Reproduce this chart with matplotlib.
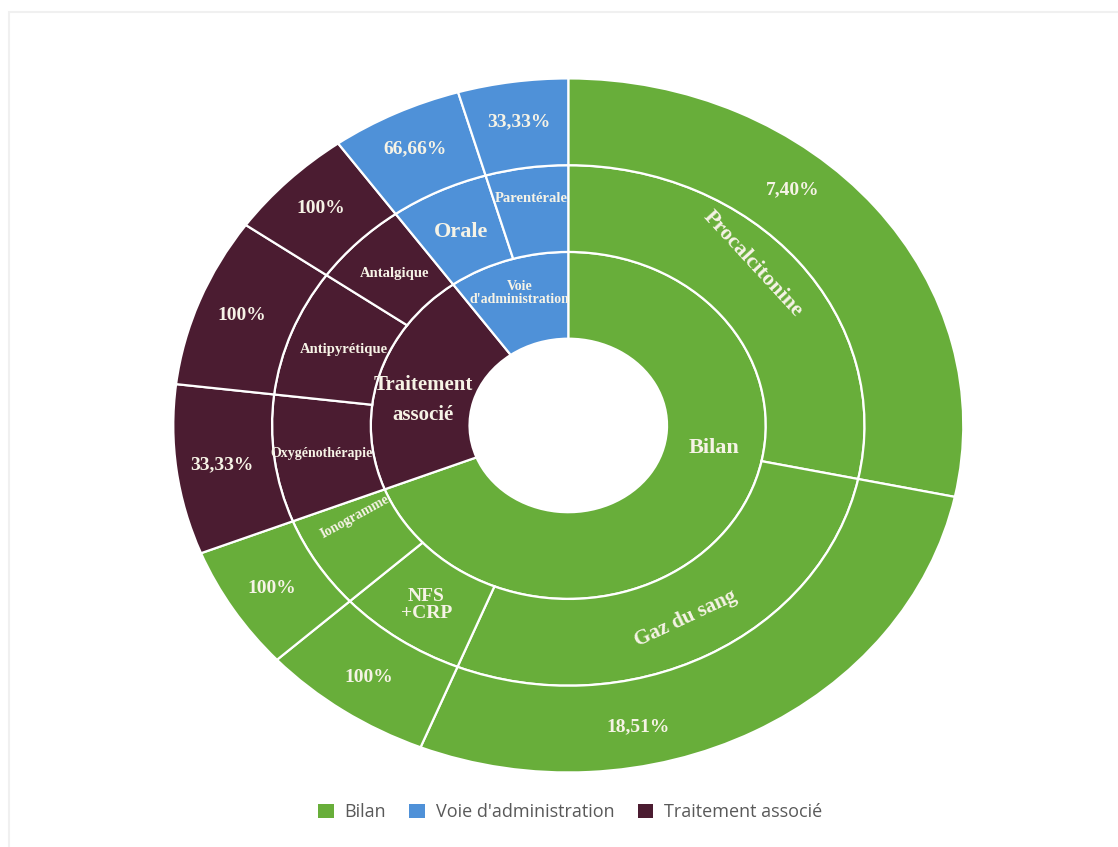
import numpy as np
import matplotlib.pyplot as plt
from matplotlib.patches import Patch, Rectangle

# inner ring, clockwise from 12 o'clock
groupes = ['Bilan', 'Traitement\nassocié', "Voie\nd'administration"]
couleurs = ['#68ae3a', '#4b1c31', '#4f91d8']

# middle ring (sub-categories) and the parent of each one
examens = ['Procalcitonine', 'Gaz du sang', 'NFS\n+CRP', 'Ionogramme',
           'Oxygénothérapie', 'Antipyrétique', 'Antalgique',
           'Orale', 'Parentérale']
parent = [0, 0, 0, 0, 1, 1, 1, 2, 2]
parts = [28.3, 27.8, 7.1, 5.8, 7.9, 7.9, 5.3, 5.4, 4.5]

# outer ring labels
pourcentages = ['7,40%', '18,51%', '100%', '100%',
                '33,33%', '100%', '100%', '66,66%', '33,33%']

legende = ['Bilan', "Voie d'administration", 'Traitement associé']
legende_idx = [0, 2, 1]

tailles_groupes = [sum(p for p, g in zip(parts, parent) if g == i) for i in range(len(groupes))]
couleurs_ex = [couleurs[g] for g in parent]

fig = plt.figure(figsize=(11.18, 8.47), dpi=100)
ax = fig.add_axes([0.155, 0.088, 0.7066, 0.8194])

wp = dict(width=0.25, edgecolor='white', linewidth=1.6)
ax.pie(tailles_groupes, radius=0.5, startangle=90, counterclock=False,
       colors=couleurs, wedgeprops=wp)
ax.pie(parts, radius=0.75, startangle=90, counterclock=False,
       colors=couleurs_ex, wedgeprops=wp)
ax.pie(parts, radius=1.0, startangle=90, counterclock=False,
       colors=couleurs_ex, wedgeprops=wp)
ax.set_aspect('auto')
ax.set_xlim(-1, 1)
ax.set_ylim(-1, 1)


def mid_angles(vals):
    vals = np.asarray(vals, dtype=float)
    fin = np.cumsum(vals) / vals.sum() * 360
    debut = fin - vals / vals.sum() * 360
    return 90 - (debut + fin) / 2   # math angle, degrees


txt = '#f6f3e6'
serif = 'Liberation Serif'


def label(s, ang, r, size, rot=0, ls=1.2):
    a = np.radians(ang)
    ax.text(r * np.cos(a), r * np.sin(a), s, ha='center', va='center',
            rotation=rot, rotation_mode='anchor', transform_rotates_text=True,
            color=txt, fontsize=size, fontweight='bold', family=serif,
            linespacing=ls)


# inner ring
ang_g = mid_angles(tailles_groupes)
ang_g[0] = -10
ang_g[1] = 168.8
size_g = [16, 15, 10]
ls_g = [1.2, 1.7, 1.0]
for i, s in enumerate(groupes):
    label(s, ang_g[i], 0.375 if i < 2 else 0.40, size_g[i], ls=ls_g[i])

# middle ring
ang_e = mid_angles(parts)
size_e = [16, 15, 14, 10, 10, 10.5, 10.5, 16, 10.5]
r_e = [0.66, 0.63, 0.63, 0.60, 0.63, 0.61, 0.62, 0.62, 0.66]
mode_e = ['tan', 'tan', None, 'rad', None, None, None, None, None]
pos_e = ang_e.copy()
pos_e[0] = 45
pos_e[3] = 206
for i, s in enumerate(examens):
    rot = 0
    if mode_e[i] == 'tan':
        rot = ang_e[i] - 90 if np.sin(np.radians(ang_e[i])) > 0 else ang_e[i] + 90
    elif mode_e[i] == 'rad':
        rot = ang_e[i] - 180
    label(s, pos_e[i], r_e[i], size_e[i], rot=rot, ls=1.05)

# outer ring
pos_p = ang_e.copy()
pos_p[0] = 50
pos_p[1] = -78.5
for i, s in enumerate(pourcentages):
    label(s, pos_p[i], 0.885, 14)

handles = [Patch(facecolor=couleurs[i], edgecolor='none') for i in legende_idx]
fig.legend(handles, legende, loc='center', bbox_to_anchor=(0.51, 0.041), ncol=3,
           frameon=False, handlelength=0.85, handleheight=0.85, handletextpad=0.6,
           columnspacing=1.3, prop={'family': 'Open Sans', 'size': 13},
           labelcolor='#595959')

# light frame around the chart area
fig.add_artist(Rectangle((9 / 1118, -0.1), 1.1, 1.1 - 12 / 847, transform=fig.transFigure,
                         fill=False, edgecolor='#f0f0f0', linewidth=1.5))

fig.savefig('out.png', dpi=100, facecolor='white')
